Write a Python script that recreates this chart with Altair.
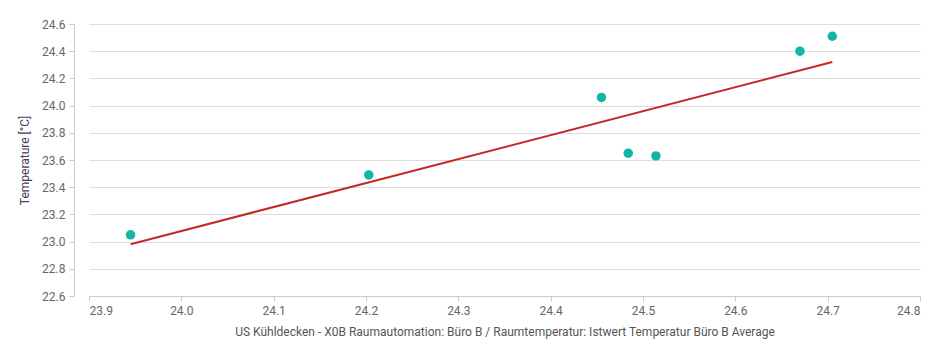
import altair as alt
import pandas as pd

x_vals = [23.945, 24.203, 24.455, 24.484, 24.514, 24.670, 24.705]
y_vals = [23.05, 23.49, 24.06, 23.65, 23.63, 24.40, 24.51]

df = pd.DataFrame({"x": x_vals, "y": y_vals})

xt = "US Kühldecken - X0B Raumautomation: Büro B / Raumtemperatur: Istwert Temperatur Büro B Average"
yt = "Temperature [°C]"

x_ticks = [23.9, 24.0, 24.1, 24.2, 24.3, 24.4, 24.5, 24.6, 24.7, 24.8]
y_ticks = [22.6, 22.8, 23.0, 23.2, 23.4, 23.6, 23.8, 24.0, 24.2, 24.4, 24.6]

xs = alt.Scale(domain=[23.9, 24.8], nice=False, zero=False)
ys = alt.Scale(domain=[22.6, 24.6], nice=False, zero=False)

x_axis = alt.Axis(values=x_ticks, format=".1f", grid=False, labelOverlap=False,
                  domainColor="#cccccc", tickColor="#cccccc",
                  tickSize=5, labelColor="#666666", labelFontSize=12, labelPadding=4,
                  titleColor="#555555", titleFontSize=12, titleFontWeight="normal",
                  titlePadding=10, labelFont="Roboto", titleFont="Roboto")
y_axis = alt.Axis(values=y_ticks, format=".1f", grid=True, labelOverlap=False,
                  gridColor="#dddddd", domainColor="#cccccc",
                  tickColor="#cccccc", tickSize=5, offset=15, labelColor="#666666",
                  labelFontSize=12, labelPadding=4, titleColor="#4a3a55", titleFontSize=12,
                  titleFontWeight="normal", titlePadding=10, labelFont="Roboto",
                  titleFont="Roboto")

base = alt.Chart(df)

points = base.mark_circle(size=90, opacity=1, color="#13b5a4").encode(
    x=alt.X("x:Q", scale=xs, title=xt, axis=x_axis),
    y=alt.Y("y:Q", scale=ys, title=yt, axis=y_axis),
)

line = base.transform_regression("x", "y").mark_line(color="#c62828", strokeWidth=2).encode(
    x=alt.X("x:Q", scale=xs, title=xt, axis=x_axis),
    y=alt.Y("y:Q", scale=ys, title=yt, axis=y_axis),
)

chart = alt.layer(line, points).properties(
    width=831, height=272,
    autosize=alt.AutoSizeParams(type="none"),
    padding={"left": 81, "top": 16, "right": 10, "bottom": 54},
).configure_view(stroke=None)

chart.save("out.html", embed_options={"renderer": "svg", "actions": False})
